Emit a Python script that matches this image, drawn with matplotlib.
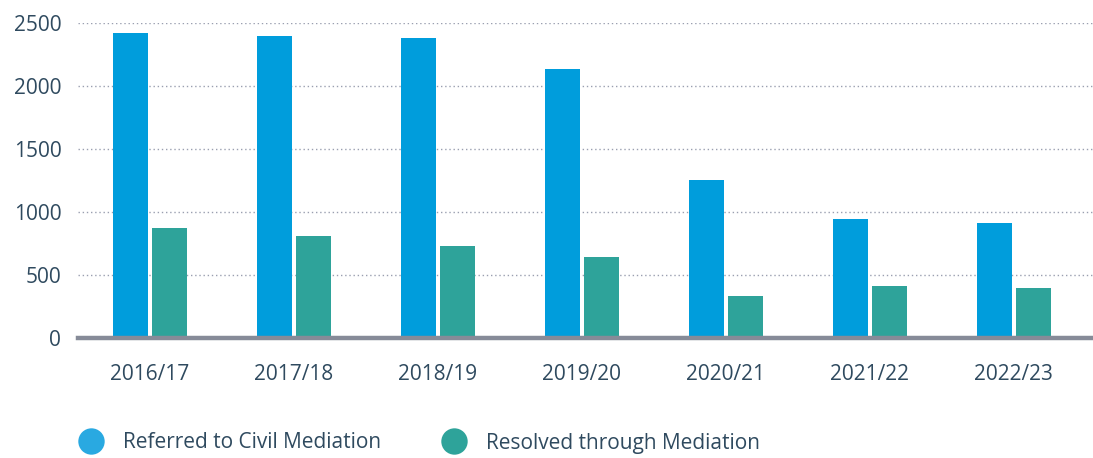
import matplotlib
matplotlib.use('Agg')
import matplotlib.pyplot as plt
from matplotlib.lines import Line2D
import numpy as np

years = ['2016/17', '2017/18', '2018/19', '2019/20', '2020/21', '2021/22', '2022/23']
referred = [2420, 2397, 2381, 2135, 1254, 944, 913]
resolved = [873, 810, 730, 643, 333, 413, 397]
y_ticks = [0, 500, 1000, 1500, 2000, 2500]

BLUE = '#009ddc'
GREEN = '#2ea39a'
TEXT = '#2f4a5f'

plt.rcParams['font.family'] = ['Open Sans', 'DejaVu Sans']

fig = plt.figure(figsize=(10.93, 4.58), dpi=100)
ax = fig.add_axes([78 / 1093, 120 / 458, 1 - 78 / 1093, 315 / 458])

x = np.arange(len(years))
w = 0.243
ax.bar(x - 0.135, referred, width=w, color=BLUE, zorder=3)
ax.bar(x + 0.135, resolved, width=w, color=GREEN, zorder=3)

ax.set_xlim(-0.5, 6.55)
ax.set_ylim(0, 2500)
ax.set_yticks(y_ticks)
ax.set_xticks(x)
ax.set_xticklabels(years)

# dotted gridlines, thick grey baseline
ax.yaxis.grid(True, linestyle=(0, (1, 2)), color='#9a9fb0', linewidth=1, zorder=0)
ax.axhline(0, color='#868b98', linewidth=3.2, zorder=4, clip_on=False)
for s in ax.spines.values():
    s.set_visible(False)

ax.tick_params(axis='both', length=0, labelsize=15, labelcolor=TEXT)
ax.tick_params(axis='y', pad=12)
ax.tick_params(axis='x', pad=19)

handles = [
    Line2D([], [], marker='o', linestyle='none', markersize=19,
           markerfacecolor='#29a9e1', markeredgecolor='none'),
    Line2D([], [], marker='o', linestyle='none', markersize=19,
           markerfacecolor=GREEN, markeredgecolor='none'),
]
leg = fig.legend(handles, ['Referred to Civil Mediation', 'Resolved through Mediation'],
                 loc='center left', bbox_to_anchor=(76 / 1093, 15 / 458),
                 ncol=2, frameon=False, borderpad=0, borderaxespad=0,
                 handlelength=1.45, handletextpad=0.8, columnspacing=2.8,
                 prop={'size': 15})
for t in leg.get_texts():
    t.set_color(TEXT)

fig.savefig('out.png', dpi=100)
